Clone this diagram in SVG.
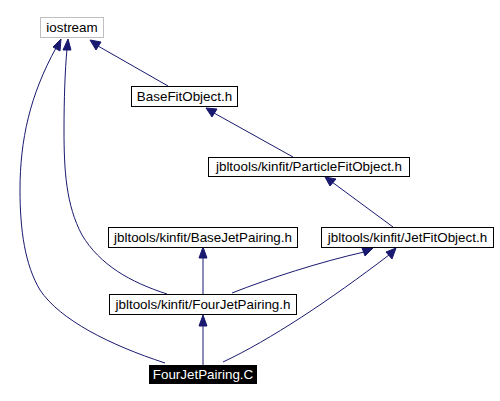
<svg xmlns="http://www.w3.org/2000/svg" width="500" height="401" viewBox="0 0 500 401">
<style>
.box{fill:#fff;stroke:#000;stroke-width:1}
.gray{fill:#fff;stroke:#bfbfbf;stroke-width:1}
.dark{fill:#000;stroke:#000}
text{font-family:"Liberation Sans",Arial,sans-serif;font-size:13.4px;text-anchor:middle}
.e{fill:none;stroke:#191970;stroke-width:1}
.ah{fill:#191970;stroke:#191970}
</style>
<rect width="500" height="401" fill="#fff"/>
<g id="edges">
<path class="e" d="M168,86 L98,46"/>
<polygon class="ah" points="90,40 101,42 96,50"/>
<path class="e" d="M293,157 L214,113"/>
<polygon class="ah" points="206,108 217,109 212,117"/>
<path class="e" d="M393,227 L332,182"/>
<polygon class="ah" points="325,177 336,179 330,186"/>
<path class="e" d="M203,294 L203,257"/>
<polygon class="ah" points="203,247 207,258 199,258"/>
<path class="e" d="M232,293 C270,278 320,262 364,252"/>
<polygon class="ah" points="373,248 365,256 362,248"/>
<path class="e" d="M167,294 C130,282 100,265 82,235 C66,205 64,170 64,130 C64,100 65,70 67,49"/>
<polygon class="ah" points="68,39 71,50 63,50"/>
<path class="e" d="M203,365 L203,325"/>
<polygon class="ah" points="203,315 207,326 199,326"/>
<path class="e" d="M223,362 C270,340 330,300 389,255"/>
<polygon class="ah" points="396,248 392,259 386,252"/>
<path class="e" d="M165,363 C110,345 60,320 40,290 C25,265 20,230 20,190 C20,140 30,95 56,48"/>
<polygon class="ah" points="61,39 60,51 53,47"/>
</g>
<g id="iostream"><rect class="gray" x="40.5" y="17.5" width="63" height="20"/><text x="72" y="32">iostream</text></g>
<g id="BaseFitObject"><rect class="box" x="131.5" y="86.5" width="106" height="20"/><text x="184.5" y="101">BaseFitObject.h</text></g>
<g id="ParticleFitObject"><rect class="box" x="208.5" y="157.5" width="201" height="19"/><text x="309" y="171">jbltools/kinfit/ParticleFitObject.h</text></g>
<g id="BaseJetPairing"><rect class="box" x="108.5" y="227.5" width="189" height="20"/><text x="203" y="242">jbltools/kinfit/BaseJetPairing.h</text></g>
<g id="JetFitObject"><rect class="box" x="321.5" y="227.5" width="172" height="20"/><text x="407.5" y="242">jbltools/kinfit/JetFitObject.h</text></g>
<g id="FourJetPairingH"><rect class="box" x="109.5" y="294.5" width="187" height="20"/><text x="203" y="309">jbltools/kinfit/FourJetPairing.h</text></g>
<g id="FourJetPairingC"><rect class="dark" x="149.5" y="365.5" width="107" height="18"/><text x="203" y="379" fill="#fff">FourJetPairing.C</text></g>
</svg>
